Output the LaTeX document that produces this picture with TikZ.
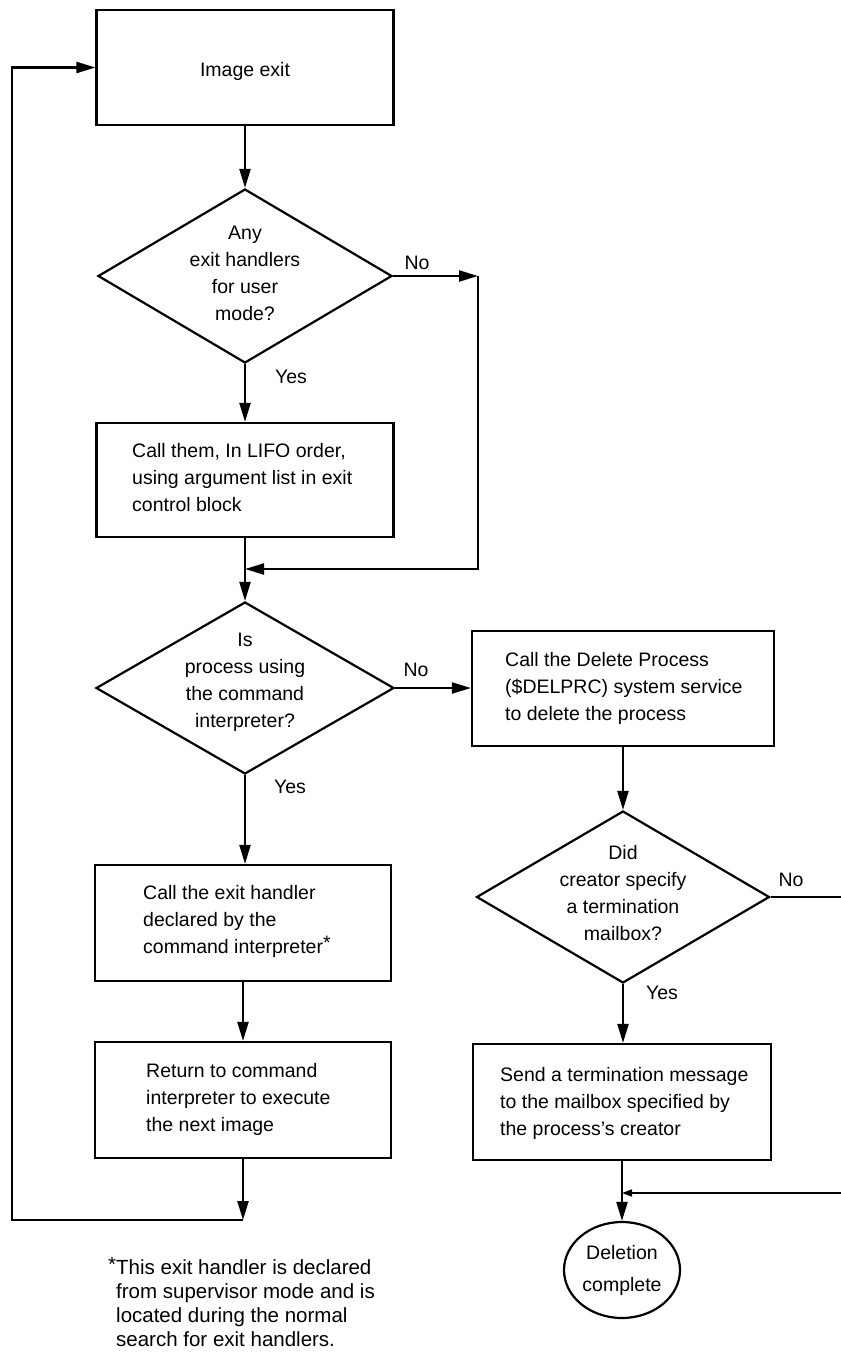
\documentclass[tikz,border=0pt]{standalone}
\usepackage{fontspec}
\setmainfont{Liberation Sans}
\usetikzlibrary{shapes.geometric,arrows.meta}

\begin{document}
\begin{tikzpicture}[x=1pt,y=-1pt,
  every node/.style={font=\fontsize{19.5}{27}\selectfont, inner sep=0pt},
  flow/.style={line width=2.2pt},
  arr/.style={flow, -{Triangle[length=19pt,width=11pt]}},
  thinarr/.style={line width=1.5pt, -{Triangle[length=10pt,width=7pt]}},
  box/.style={draw, line width=2.2pt, rectangle},
  dia/.style={draw, line width=2.2pt, diamond},
  term/.style={draw, line width=2.2pt, ellipse, align=center, font=\fontsize{19.5}{32}\selectfont},
  ltxt/.style={anchor=west, align=left},
  ctxt/.style={align=center},
  lbl/.style={},
  note/.style={anchor=north west, align=left, font=\fontsize{20.5}{24}\selectfont}
]
\useasboundingbox (0,0) rectangle (841,1353);
\clip (0,0) rectangle (841,1353);

% ---- left column ----
\node[box, minimum width=297pt, minimum height=115pt] (b1) at (245,67.5) {};
\node[ctxt] (b1t) at (245,71) {Image exit};

\node[dia, minimum width=294pt, minimum height=174pt] (d1) at (245,276) {};
\node[ctxt] (d1t) at (245,273.5) {Any\\exit handlers\\for user\\mode?};

\node[box, minimum width=297pt, minimum height=114pt] (b2) at (245,480) {};
\node[ltxt] (b2t) at (132,478) {Call them, In LIFO order,\\using argument list in exit\\control block};

\node[dia, minimum width=298pt, minimum height=172pt] (d2) at (245,688) {};
\node[ctxt] (d2t) at (245,682) {Is\\process using\\the command\\interpreter?};

\node[box, minimum width=296pt, minimum height=116pt] (b4) at (243,923) {};
\node[ltxt] (b4t) at (143,921) {Call the exit handler\\declared by the\\command interpreter\raisebox{4pt}{*}};

\node[box, minimum width=296pt, minimum height=116pt] (b5) at (243,1100) {};
\node[ltxt] (b5t) at (146,1099) {Return to command\\interpreter to execute\\the next image};

% ---- right column ----
\node[box, minimum width=302pt, minimum height=115pt] (b3) at (623,688.5) {};
\node[ltxt] (b3t) at (505,688) {Call the Delete Process\\(\$DELPRC) system service\\to delete the process};

\node[dia, minimum width=293pt, minimum height=172pt] (d3) at (623,897) {};
\node[ctxt] (d3t) at (623,893) {Did\\creator specify\\a termination\\mailbox?};

\node[box, minimum width=298pt, minimum height=116pt] (b6) at (622,1102) {};
\node[ltxt] (b6t) at (500,1103) {Send a termination message\\to the mailbox specified by\\the process's creator};

\node[term, minimum width=116pt, minimum height=96pt] (e) at (622,1270) {Deletion\\complete};

% ---- branch labels ----
\node[lbl] (no1) at (417,263) {No};
\node[lbl] (yes1) at (291,377) {Yes};
\node[lbl] (no2) at (416,670) {No};
\node[lbl] (yes2) at (290,787) {Yes};
\node[lbl] (no3) at (791,880) {No};
\node[lbl] (yes3) at (662,993) {Yes};

% ---- helper points ----
\coordinate (n1) at (478,276);
\coordinate (m1) at (245,569);
\coordinate (lp1) at (243,1220);
\coordinate (lp2) at (12,1220);
\coordinate (r1) at (862,897);
\coordinate (r2) at (862,1193);
\coordinate (j1) at (622,1193);

% ---- connectors ----
\draw[arr] (b1) -- (d1);
\draw[arr] (d1) -- (b2);
\draw[arr] (d1.east) -- (n1);
\draw[arr] (n1) -- (n1 |- m1) -- (m1);
\draw[arr] (b2) -- (d2);
\draw[arr] (d2.south) -- (d2.south |- b4.north);
\draw[arr] (b4) -- (b5);
\draw[arr] (b5) -- (lp1);
\draw[arr] (lp1) -- (lp2) -- (lp2 |- b1.west) -- (b1.west);
\draw[arr] (d2.east) -- (d2.east -| b3.west);
\draw[arr] (b3.south -| d3.north) -- (d3.north);
\draw[arr] (d3.south) -- (d3.south |- b6.north);
\draw[arr] (b6) -- (e);
\draw[flow] (d3.east) -- (r1) -- (r2);
\draw[thinarr] (r2) -- (j1);

% ---- footnote ----
\node[note] (fn) at (116,1257) {\llap{\raisebox{3pt}{*}}This exit handler is declared\\from supervisor mode and is\\located during the normal\\search for exit handlers.};
\end{tikzpicture}
\end{document}
